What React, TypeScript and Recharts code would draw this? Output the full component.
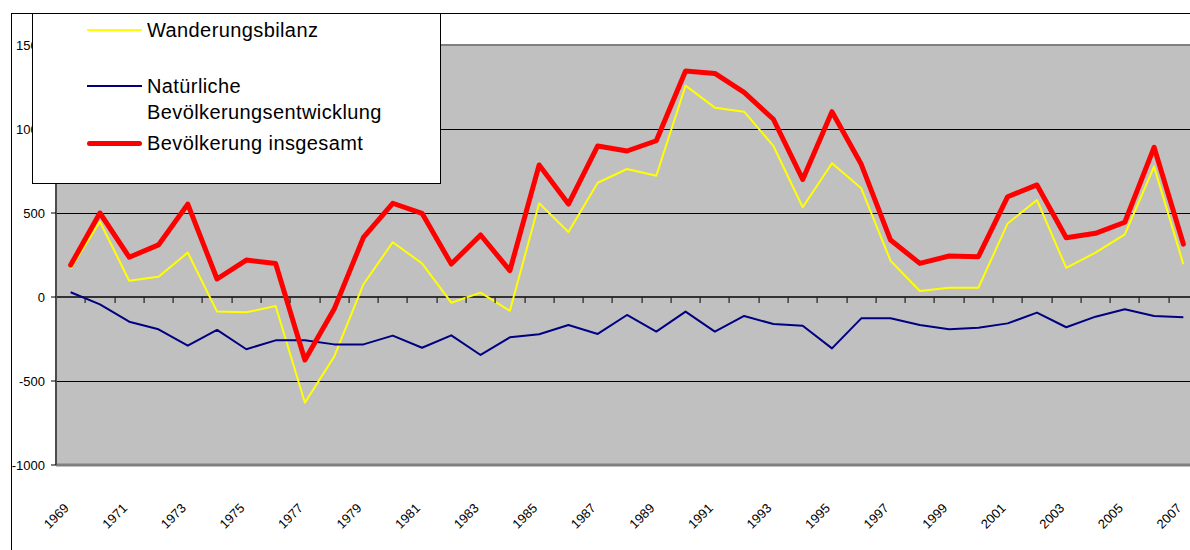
import { ComposedChart, Line, XAxis, YAxis, CartesianGrid, ReferenceLine, Legend } from 'recharts';

const FONT = "'Liberation Sans', Arial, Helvetica, sans-serif";

// Jahre 1969 - 2007
const years = [
  1969, 1970, 1971, 1972, 1973, 1974, 1975, 1976, 1977, 1978,
  1979, 1980, 1981, 1982, 1983, 1984, 1985, 1986, 1987, 1988,
  1989, 1990, 1991, 1992, 1993, 1994, 1995, 1996, 1997, 1998,
  1999, 2000, 2001, 2002, 2003, 2004, 2005, 2006, 2007,
];

const wanderungsbilanz = [
  170, 448, 97, 121, 264, -87, -91, -54, -629, -355,
  76, 326, 200, -34, 26, -82, 558, 387, 680, 762,
  722, 1258, 1127, 1103, 899, 534, 796, 647, 216, 36,
  55, 55, 438, 577, 174, 264, 373, 776, 195,
];

const natuerliche = [
  28, -44, -147, -192, -290, -196, -311, -258, -258, -282,
  -282, -230, -302, -228, -345, -240, -222, -167, -220, -107,
  -206, -87, -206, -113, -161, -171, -306, -127, -127, -167,
  -192, -183, -157, -93, -180, -117, -73, -113, -121,
];

const insgesamt = [
  190, 500, 237, 310, 553, 107, 220, 200, -375, -72,
  355, 558, 498, 196, 369, 157, 786, 553, 899, 869,
  930, 1345, 1331, 1218, 1058, 700, 1103, 790, 339, 200,
  244, 240, 597, 667, 353, 379, 445, 891, 315,
];

const seriesNames = ['Wanderungsbilanz', 'Natürliche Bevölkerungsentwicklung', 'Bevölkerung insgesamt'];

const yTicks = [-1000, -500, 0, 500, 1000, 1500];
const xLabelYears = years.filter((_, i) => i % 2 === 0);
// Teilstriche auf der Nulllinie zwischen den Kategorien
const boundaryTicks = years.map((y) => ({ year: y + 0.5, zero: 0 }));

const data = years.map((year, i) => ({
  year,
  wanderung: wanderungsbilanz[i],
  natuerlich: natuerliche[i],
  gesamt: insgesamt[i],
}));

const YearTick = ({ x, y, payload }: any) => (
  <g transform={`translate(${x - 1},${y + 44})`}>
    <text
      x={0}
      y={0}
      textAnchor="end"
      transform="rotate(-45)"
      fontSize={13}
      fontFamily={FONT}
      fill="#000"
    >
      {payload.value}
    </text>
  </g>
);

const ZeroTick = ({ cx, cy, index }: any) => (
  <rect key={index} x={Math.round(cx) - 0.5} y={cy} width={1.2} height={6} fill="#222" />
);

const rowTops = [3, 59, 116];

const LegendBox = ({ payload }: any) => {
  const items = (payload || [])
    .filter((e: any) => seriesNames.includes(e.value))
    .sort((a: any, b: any) => seriesNames.indexOf(a.value) - seriesNames.indexOf(b.value));
  return (
    <div
      style={{
        width: 407,
        height: 169,
        background: '#fff',
        border: '1px solid #000',
        position: 'relative',
        fontFamily: FONT,
        fontSize: 20,
        letterSpacing: 0.4,
        color: '#000',
      }}
    >
      {items.map((entry: any, i: number) => {
        const sw = entry.payload?.strokeWidth ?? 2;
        return (
          <div
            key={entry.value}
            style={{ position: 'absolute', left: 54, top: rowTops[i], display: 'flex', alignItems: 'flex-start' }}
          >
            <div
              style={{
                width: 55,
                height: sw,
                background: entry.color,
                marginTop: 13 - sw / 2,
                marginRight: 5,
                borderRadius: sw > 3 ? sw / 2 : 0,
              }}
            />
            <div style={{ lineHeight: '26px', width: 280 }}>{entry.value}</div>
          </div>
        );
      })}
    </div>
  );
};

export default function App() {
  return (
    <div style={{ position: 'absolute', left: 0, top: 0, width: 1190, height: 550, overflow: 'hidden', background: '#fff' }}>
      <div
        style={{
          position: 'absolute',
          left: 11,
          top: 13,
          width: 1179,
          height: 537,
          borderLeft: '1px solid #000',
          borderTop: '1px solid #000',
        }}
      />
      <div style={{ position: 'absolute', left: 0, top: 0 }}>
        <ComposedChart width={1198} height={550} data={data} margin={{ top: 45, right: 0, bottom: 0, left: 0 }}>
          <CartesianGrid vertical={false} stroke="#000" fill="#C0C0C0" shapeRendering="crispEdges" />
          <XAxis
            dataKey="year"
            type="number"
            domain={[1968.5, 2007.5]}
            ticks={xLabelYears}
            interval={0}
            height={85}
            axisLine={false}
            tickLine={false}
            tickSize={0}
            tickMargin={0}
            tick={<YearTick />}
          />
          <YAxis
            domain={[-1000, 1500]}
            ticks={yTicks}
            interval={0}
            width={56}
            axisLine={{ stroke: '#4d4d4d', strokeWidth: 2 }}
            tickLine={{ stroke: '#000' }}
            tickSize={5}
            tickMargin={6}
            tick={{ fontSize: 13, fontFamily: FONT, fill: '#000' }}
          />
          <ReferenceLine y={1500} stroke="#808080" strokeWidth={2} />
          <ReferenceLine y={-1000} stroke="#808080" strokeWidth={3} />
          <ReferenceLine y={0} stroke="#333" strokeWidth={2} />
          <Line
            data={boundaryTicks}
            dataKey="zero"
            name="ticks"
            legendType="none"
            stroke="none"
            dot={<ZeroTick />}
            activeDot={false}
            isAnimationActive={false}
          />
          <Legend
            layout="vertical"
            align="center"
            verticalAlign="middle"
            wrapperStyle={{ left: 32, top: 13, width: 'auto', height: 'auto' }}
            content={<LegendBox />}
          />
          <Line
            type="linear"
            dataKey="wanderung"
            name="Wanderungsbilanz"
            stroke="#FFFF00"
            strokeWidth={2}
            dot={false}
            strokeLinejoin="round"
            isAnimationActive={false}
          />
          <Line
            type="linear"
            dataKey="natuerlich"
            name="Natürliche Bevölkerungsentwicklung"
            stroke="#000080"
            strokeWidth={2}
            dot={false}
            strokeLinejoin="round"
            isAnimationActive={false}
          />
          <Line
            type="linear"
            dataKey="gesamt"
            name="Bevölkerung insgesamt"
            stroke="#FF0000"
            strokeWidth={5}
            dot={false}
            strokeLinejoin="round"
            strokeLinecap="round"
            isAnimationActive={false}
          />
        </ComposedChart>
      </div>
    </div>
  );
}
